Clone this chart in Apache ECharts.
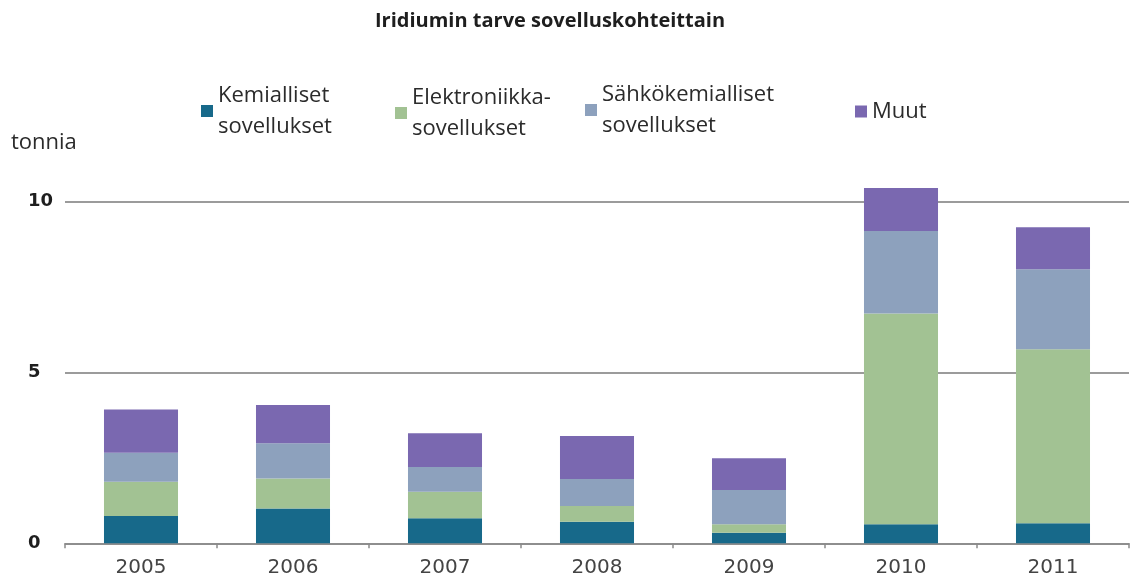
<!DOCTYPE html>
<html>
<head>
<meta charset="utf-8">
<script src="https://cdn.jsdelivr.net/npm/echarts@6/dist/echarts.min.js"></script>
<style>
  html, body { margin: 0; padding: 0; background: #ffffff; }
  #chart { width: 1134px; height: 582px; }
</style>
</head>
<body>
<div id="chart"></div>
<script>
// Iridium demand by application, tonnes per year
const years = ['2005', '2006', '2007', '2008', '2009', '2010', '2011'];
const kemialliset = [0.80, 1.02, 0.73, 0.63, 0.31, 0.56, 0.59];
const elektroniikka = [1.00, 0.88, 0.78, 0.46, 0.25, 6.17, 5.09];
const sahkokemialliset = [0.85, 1.03, 0.72, 0.79, 1.00, 2.41, 2.34];
const muut = [1.27, 1.12, 0.99, 1.26, 0.93, 1.26, 1.23];
const yTicks = [0, 5, 10];

const seriesNames = ['Kemialliset\nsovellukset', 'Elektroniikka-\nsovellukset', 'Sähkökemialliset\nsovellukset', 'Muut'];
const seriesData = [kemialliset, elektroniikka, sahkokemialliset, muut];
const colors = ['#17698a', '#a2c293', '#8da1bd', '#7a68b0'];

const legendFont = { fontFamily: 'Open Sans', fontSize: 22, color: '#2b2b2b', lineHeight: 31 };
const legendPos = [
  { left: 196, top: 75 },
  { left: 390, top: 77 },
  { left: 580, top: 74 },
  { left: 850, top: 91 }
];

const chart = echarts.init(document.getElementById('chart'), null, { renderer: 'canvas' });

chart.setOption({
  backgroundColor: '#ffffff',
  animation: false,
  color: colors,
  title: {
    text: 'Iridiumin tarve sovelluskohteittain',
    left: 370,
    top: 6,
    textStyle: { fontFamily: 'Open Sans', fontWeight: 'bold', fontSize: 20, color: '#1e1e1e' }
  },
  legend: seriesNames.map((name, i) => ({
    data: [name],
    left: legendPos[i].left,
    top: legendPos[i].top,
    orient: 'horizontal',
    icon: 'rect',
    itemWidth: 12,
    itemHeight: 12,
    itemGap: 6,
    selectedMode: false,
    textStyle: legendFont
  })),
  graphic: [{
    type: 'text',
    left: 11,
    top: 132,
    style: { text: 'tonnia', fontFamily: 'Open Sans', fontSize: 22, fill: '#2b2b2b' }
  }],
  grid: { left: 65, right: 5, top: 201.7, bottom: 38.7, containLabel: false },
  xAxis: {
    type: 'category',
    data: years,
    axisLine: { show: true, lineStyle: { color: '#8a8a8a', width: 1.5 } },
    axisTick: { show: true, alignWithLabel: false, length: 5, lineStyle: { color: '#8a8a8a', width: 1.5 } },
    axisLabel: { margin: 14, fontFamily: 'DejaVu Sans', fontSize: 20, color: '#444444' }
  },
  yAxis: {
    type: 'value',
    min: yTicks[0],
    max: yTicks[yTicks.length - 1],
    interval: yTicks[1] - yTicks[0],
    axisLine: { show: false },
    axisTick: { show: false },
    axisLabel: {
      align: 'left',
      margin: 37,
      fontFamily: 'DejaVu Sans',
      fontWeight: 'bold',
      fontSize: 18,
      color: '#1e1e1e'
    },
    splitLine: { show: true, lineStyle: { color: '#7a7a7a', width: 1.5 } }
  },
  series: seriesNames.map((name, i) => ({
    name: name,
    type: 'bar',
    stack: 'total',
    barWidth: '48.7%',
    clip: false,
    data: seriesData[i],
    itemStyle: { color: colors[i] }
  }))
});
</script>
</body>
</html>
